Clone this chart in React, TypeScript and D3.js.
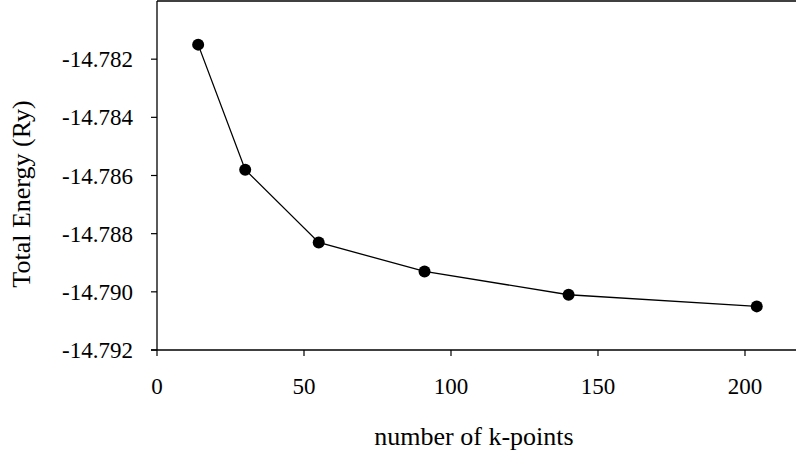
import React from "react";
import * as d3 from "d3";

const kPoints = [14, 30, 55, 91, 140, 204];
const totalEnergy = [-14.7815, -14.7858, -14.7883, -14.7893, -14.7901, -14.7905];
const yTicks = [-14.782, -14.784, -14.786, -14.788, -14.79, -14.792];
const xTicks = [0, 50, 100, 150, 200];

const W = 796;
const H = 451;
const left = 157;
const top = 1;
const bottom = 350;
const right = 796;
const FONT = "Liberation Serif, DejaVu Serif, serif";

export default function App() {
  const x = d3.scaleLinear().domain([0, 217.35]).range([left, right]);
  const y = d3.scaleLinear().domain([-14.792, -14.78]).range([bottom, top]);
  const pts = kPoints.map((k, i) => [x(k), y(totalEnergy[i])] as [number, number]);
  const line = d3.line()(pts) || "";
  return (
    <svg
      width={W}
      height={H}
      style={{ position: "absolute", left: 0, top: 0, background: "#fff" }}
    >
      <rect x={0} y={0} width={W} height={H} fill="#fff" />
      <line x1={left} x2={right} y1={top} y2={top} stroke="#000" strokeWidth={1.3} />
      <line x1={left} x2={left} y1={top} y2={bottom} stroke="#000" strokeWidth={1.3} />
      <line x1={left - 6} x2={right} y1={bottom} y2={bottom} stroke="#000" strokeWidth={1.3} />
      {yTicks.map((t) => (
        <g key={"y" + t}>
          <line x1={left - 6} x2={left} y1={y(t)} y2={y(t)} stroke="#000" strokeWidth={1.2} />
          <text
            x={left - 24}
            y={y(t)}
            dy="0.35em"
            textAnchor="end"
            style={{ fontFamily: FONT, fontSize: 23 }}
            fill="#000"
          >
            {d3.format(".3f")(t).replace("\u2212", "-")}
          </text>
        </g>
      ))}
      {xTicks.map((t) => (
        <g key={"x" + t}>
          <line x1={x(t)} x2={x(t)} y1={bottom} y2={bottom + 6} stroke="#000" strokeWidth={1.2} />
          <text
            x={x(t)}
            y={394}
            textAnchor="middle"
            style={{ fontFamily: FONT, fontSize: 23 }}
            fill="#000"
          >
            {t}
          </text>
        </g>
      ))}
      <path d={line} fill="none" stroke="#000" strokeWidth={1.3} />
      {pts.map((p, i) => (
        <circle key={i} cx={p[0]} cy={p[1]} r={6} fill="#000" />
      ))}
      <text
        x={474}
        y={445}
        textAnchor="middle"
        style={{ fontFamily: FONT, fontSize: 26 }}
        fill="#000"
      >
        number of k-points
      </text>
      <text
        transform={`translate(${30},${194}) rotate(-90)`}
        textAnchor="middle"
        style={{ fontFamily: FONT, fontSize: 26 }}
        fill="#000"
      >
        Total Energy (Ry)
      </text>
    </svg>
  );
}
